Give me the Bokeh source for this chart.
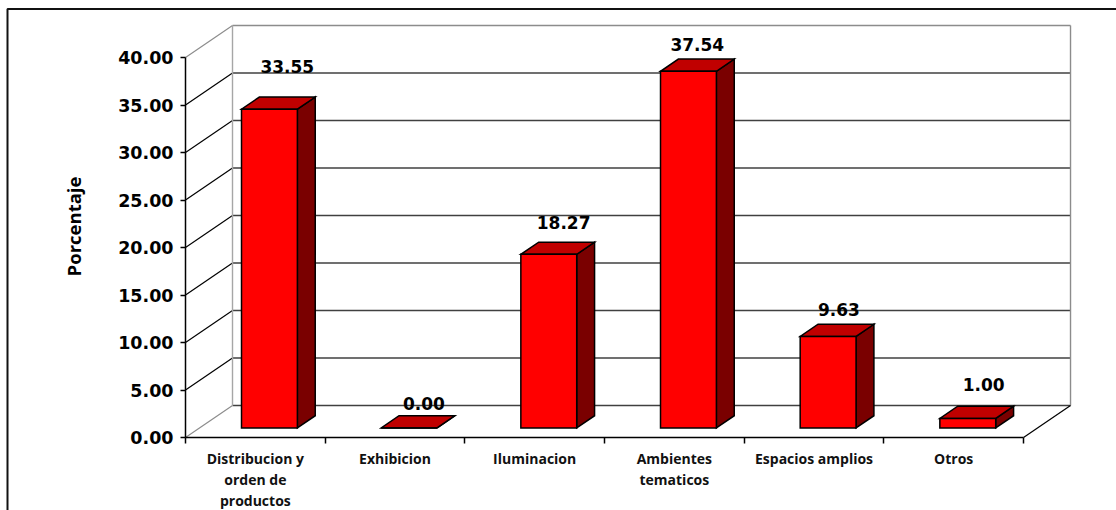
import math

from bokeh.core.properties import value
from bokeh.embed import file_html
from bokeh.models import (ColumnDataSource, FixedTicker, LinearAxis,
                          PrintfTickFormatter, Range1d)
from bokeh.plotting import figure
from bokeh.resources import INLINE

# ---- data -------------------------------------------------------------
categories = ["Distribucion y orden de productos", "Exhibicion", "Iluminacion",
              "Ambientes tematicos", "Espacios amplios", "Otros"]
category_lines = [["Distribucion y", "orden de", "productos"], ["Exhibicion"],
                  ["Iluminacion"], ["Ambientes", "tematicos"],
                  ["Espacios amplios"], ["Otros"]]
percentages = [33.55, 0.00, 18.27, 37.54, 9.63, 1.00]
y_ticks = [0, 5, 10, 15, 20, 25, 30, 35, 40]
y_title = "Porcentaje"

# ---- layout (pixels) --------------------------------------------------
W, H = 1116, 510
ORIGIN_X, ORIGIN_Y = 185, 437          # front corner of the floor
PX_PER_CAT = 139.67                    # width of one category slot
PX_PER_VAL = 9.5                       # pixels per percentage point
DEPTH_X_PX, DEPTH_Y_PX = 47, 32        # oblique depth of the 3-D box

DX = DEPTH_X_PX / PX_PER_CAT           # depth offset in data units
DY = DEPTH_Y_PX / PX_PER_VAL
Z0, Z1 = 0.30, 0.68                    # front / back depth of each column
HALF_W = 0.20                          # half width of a column (in slots)

# small per-label nudges (pixels) for the value labels
label_dx = [0, -3, -3, -9, -7, -2]
label_up = [12, -7, 1, -4, -4, 3]
LABEL_GAP = 19


def px_x(px):
    return (px - ORIGIN_X) / PX_PER_CAT


def px_y(py):
    return (ORIGIN_Y - py) / PX_PER_VAL


p = figure(width=W, height=H,
           x_range=Range1d(px_x(0), px_x(W)),
           y_range=Range1d(px_y(H), px_y(0)),
           x_axis_location=None, y_axis_location=None,
           toolbar_location=None, output_backend="svg",
           min_border=0, title=None)
p.grid.visible = False
p.outline_line_color = None
p.background_fill_color = "white"
p.border_fill_color = "white"

n = len(categories)
y_max = max(y_ticks)

# ---- chart-area border --------------------------------------------------
p.line([px_x(7), px_x(7), px_x(W + 20)], [px_y(H + 20), px_y(8.5), px_y(8.5)],
       line_color="#111111", line_width=2)

# ---- back wall gridlines -----------------------------------------------
grid_src = ColumnDataSource(dict(
    x0=[DX] * len(y_ticks), x1=[n + DX] * len(y_ticks),
    y0=[t + DY for t in y_ticks], y1=[t + DY for t in y_ticks],
    color=["#8c8c8c" if t == y_max else "#404040" for t in y_ticks],
))
p.segment("x0", "y0", "x1", "y1", source=grid_src, line_color="color",
          line_width=1.4)

# ---- side wall diagonals ------------------------------------------------
diag_src = ColumnDataSource(dict(
    x0=[0] * len(y_ticks), x1=[DX] * len(y_ticks),
    y0=y_ticks, y1=[t + DY for t in y_ticks],
    color=["#8c8c8c" if t in (0, y_max) else "#000000" for t in y_ticks],
))
p.segment("x0", "y0", "x1", "y1", source=diag_src, line_color="color",
          line_width=1.2)

# wall edges
p.segment([DX], [DY], [DX], [y_max + DY], line_color="#a6a6a6", line_width=1.4)
p.segment([n + DX], [DY], [n + DX], [y_max + DY], line_color="#8c8c8c",
          line_width=1.4)
# right edge of the floor
p.segment([n], [0], [n + DX], [DY], line_color="#000000", line_width=1.2)

# ---- columns -----------------------------------------------------------
front_xs, front_ys, top_xs, top_ys, side_xs, side_ys = [], [], [], [], [], []
for i, v in enumerate(percentages):
    c = i + 0.5
    l0, r0 = c - HALF_W + Z0 * DX, c + HALF_W + Z0 * DX
    l1, r1 = c - HALF_W + Z1 * DX, c + HALF_W + Z1 * DX
    b0, b1 = Z0 * DY, Z1 * DY
    t0, t1 = v + Z0 * DY, v + Z1 * DY
    side_xs.append([r0, r1, r1, r0])
    side_ys.append([b0, b1, t1, t0])
    top_xs.append([l0, r0, r1, l1])
    top_ys.append([t0, t0, t1, t1])
    front_xs.append([l0, r0, r0, l0])
    front_ys.append([b0, b0, t0, t0])

outline = dict(line_color="black", line_width=1.5, line_join="miter")
p.patches(side_xs, side_ys, fill_color="#7a0000", **outline)
p.patches(top_xs, top_ys, fill_color="#c00000", **outline)
p.patches(front_xs, front_ys, fill_color="#ff0000", **outline)

# ---- value labels ------------------------------------------------------
lab_src = ColumnDataSource(dict(
    x=[i + 0.5 + Z1 * DX for i in range(n)],
    y=[v + Z1 * DY for v in percentages],
    text=["%.2f" % v for v in percentages],
    xo=label_dx,
    yo=[-(LABEL_GAP + u) for u in label_up],
))
p.text("x", "y", text="text", x_offset="xo", y_offset="yo", source=lab_src,
       text_font=value("DejaVu Sans"), text_font_style="bold",
       text_font_size="17px", text_color="black",
       text_align="center", text_baseline="middle")

# ---- axes ----------------------------------------------------------------
yaxis = LinearAxis(fixed_location=0, bounds=(min(y_ticks), y_max),
                   ticker=FixedTicker(ticks=y_ticks),
                   formatter=PrintfTickFormatter(format="%.2f"))
yaxis.axis_line_color = "black"
yaxis.axis_line_width = 1.5
yaxis.major_tick_line_color = "black"
yaxis.major_tick_line_width = 1.5
yaxis.major_tick_out = 5
yaxis.major_tick_in = 0
yaxis.minor_tick_out = 0
yaxis.minor_tick_in = 0
yaxis.major_label_standoff = 7
yaxis.major_label_text_font = "DejaVu Sans"
yaxis.major_label_text_font_style = "bold"
yaxis.major_label_text_font_size = "17.5px"
yaxis.major_label_text_color = "black"
p.add_layout(yaxis, "left")

xaxis = LinearAxis(fixed_location=0, bounds=(0, n),
                   ticker=FixedTicker(ticks=list(range(n + 1))),
                   major_label_overrides={i: "" for i in range(n + 1)})
xaxis.axis_line_color = "black"
xaxis.axis_line_width = 1.5
xaxis.major_tick_line_color = "black"
xaxis.major_tick_line_width = 1.5
xaxis.major_tick_out = 6
xaxis.major_tick_in = 0
xaxis.minor_tick_out = 0
xaxis.minor_tick_in = 0
p.add_layout(xaxis, "below")

# ---- category labels -----------------------------------------------------
cx, cy, ctext, coff = [], [], [], []
for i, lines in enumerate(category_lines):
    for k, line in enumerate(lines):
        cx.append(i + 0.5)
        cy.append(0)
        ctext.append(line)
        coff.append(21 * (k + 1))
p.text(cx, cy, text=ctext, y_offset=coff,
       text_font=value("Open Sans"), text_font_style="bold",
       text_font_size="14px", text_color="#111111",
       text_align="center", text_baseline="middle")

# ---- axis title ----------------------------------------------------------
p.text([px_x(73)], [px_y(226)], text=[y_title], angle=math.pi / 2,
       text_font=value("Open Sans"), text_font_style="bold",
       text_font_size="18.5px", text_color="black",
       text_align="center", text_baseline="middle")

open("out.html", "w").write(file_html(p, INLINE))
